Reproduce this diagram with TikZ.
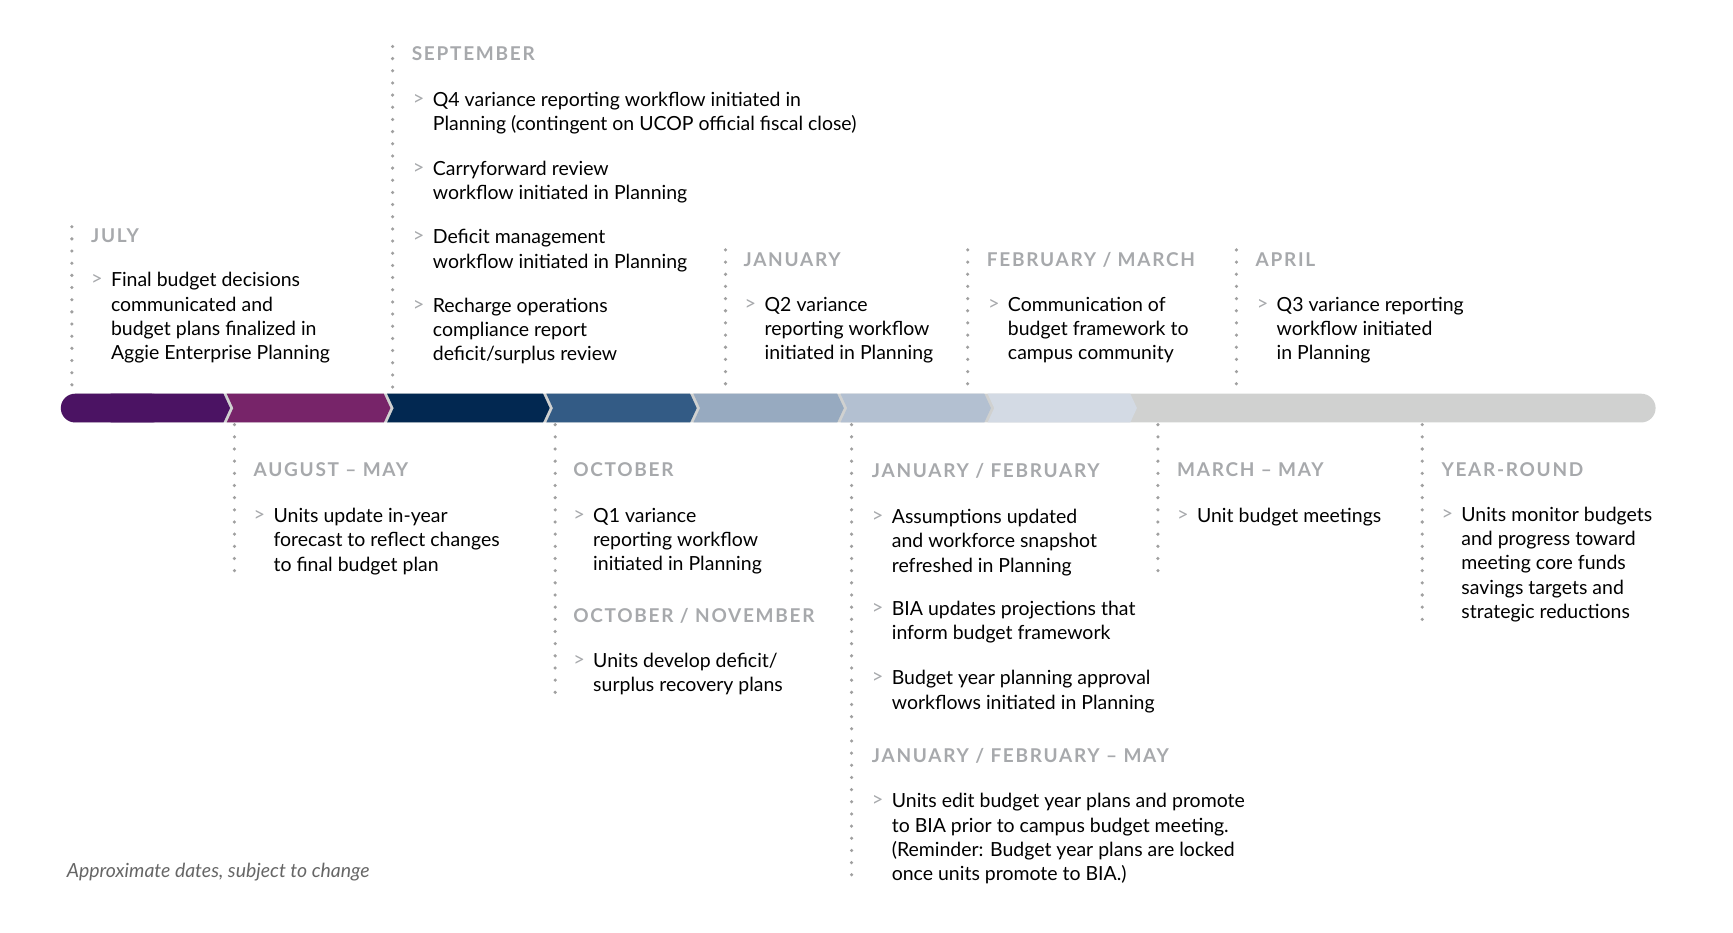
\documentclass[tikz,border=0pt]{standalone}
\usepackage{fontspec}
\setmainfont{Lato}
\newfontfamily\headfont[LetterSpace=9]{Lato}
\definecolor{cA}{HTML}{4B1363}
\definecolor{cB}{HTML}{772469}
\definecolor{cC}{HTML}{022851}
\definecolor{cD}{HTML}{335B85}
\definecolor{cE}{HTML}{97AAC0}
\definecolor{cF}{HTML}{B3C0D1}
\definecolor{cG}{HTML}{D3DAE4}
\definecolor{cBar}{HTML}{D0D1D0}
\definecolor{cHead}{HTML}{A7A9AC}
\definecolor{cDot}{HTML}{A0A0A0}
\newcommand{\tlhead}[4]{\node[head] (#1) at (#2,#3-13) {#4};}
\newcommand{\tlitem}[4]{\node[bul] (#1b) at (#2-18,#3-11) {>};\node[item] (#1) at (#2,#3-13) {#4};}
\newcommand{\seg}[3]{\fill[#1] (#2,356) -- (#3,356) -- (#3+6,369) -- (#3,382) -- (#2,382) -- (#2+6,369) -- cycle;}
\begin{document}
\begin{tikzpicture}[x=0.5pt,y=-0.5pt,
  head/.style={anchor=north west,inner sep=0,text=cHead,font=\headfont\bfseries\fontsize{8.6}{11}\selectfont},
  item/.style={anchor=north west,inner sep=0,align=left,text=black,font=\fontsize{8.8}{11}\selectfont},
  bul/.style={anchor=north west,inner sep=0,text=cHead,font=\fontsize{9}{11}\selectfont},
  dots/.style={cDot,line width=1.6pt,line cap=round,dash pattern=on 0pt off 5.5pt}]
\useasboundingbox (0,0) rectangle (1567,843.6);
% bar
\fill[cBar,rounded corners=6.5pt] (55,356) rectangle (1497,382);
\fill[cA,rounded corners=6.5pt] (55,356) rectangle (150,382);
\fill[cA] (100,356) -- (202,356) -- (208,369) -- (202,382) -- (100,382) -- cycle;
\seg{cB}{205}{347}
\seg{cC}{350}{491}
\seg{cD}{494}{624}
\seg{cE}{627}{757}
\seg{cF}{760}{890}
\seg{cG}{893}{1022}
% connectors
\foreach \n/\x/\a/\b in {jul/65/205/355, sep/355/42/355, jan/656/226/355, feb/875/226/355, apr/1118/226/355,
  aug/212/384/516, oct/502/384/626, jf/770/384/796, mar/1047/384/516, yr/1286/384/560}{
  \coordinate (\n T) at (\x,\a); \coordinate (\n B) at (\x,\b);
  \draw[dots] (\n T) -- (\n B);}
% top
\tlhead{hjul}{82}{219}{JULY}
\tlitem{ijul}{100}{259}{Final budget decisions\\communicated and\\budget plans finalized in\\Aggie Enterprise Planning}
\tlhead{hsep}{372}{55}{SEPTEMBER}
\tlitem{isep1}{391}{96}{Q4 variance reporting workflow initiated in\\Planning (contingent on UCOP official fiscal close)}
\tlitem{isep2}{391}{158}{Carryforward review\\workflow initiated in Planning}
\tlitem{isep3}{391}{220}{Deficit management\\workflow initiated in Planning}
\tlitem{isep4}{391}{282}{Recharge operations\\compliance report\\deficit/surplus review}
\tlhead{hjan}{672}{241}{JANUARY}
\tlitem{ijan}{691}{281}{Q2 variance\\reporting workflow\\initiated in Planning}
\tlhead{hfeb}{892}{241}{FEBRUARY / MARCH}
\tlitem{ifeb}{911}{281}{Communication of\\budget framework to\\campus community}
\tlhead{hapr}{1135}{241}{APRIL}
\tlitem{iapr}{1154}{281}{Q3 variance reporting\\workflow initiated\\in Planning}
% bottom
\tlhead{haug}{229}{431}{AUGUST – MAY}
\tlitem{iaug}{247}{472}{Units update in-year\\forecast to reflect changes\\to final budget plan}
\tlhead{hoct}{518}{431}{OCTOBER}
\tlitem{ioct}{536}{472}{Q1 variance\\reporting workflow\\initiated in Planning}
\tlhead{hon}{518}{563}{OCTOBER / NOVEMBER}
\tlitem{ion}{536}{603}{Units develop deficit/\\surplus recovery plans}
\tlhead{hjf}{788}{432}{JANUARY / FEBRUARY}
\tlitem{ijf1}{806}{473}{Assumptions updated\\and workforce snapshot\\refreshed in Planning}
\tlitem{ijf2}{806}{556}{BIA updates projections that\\inform budget framework}
\tlitem{ijf3}{806}{619}{Budget year planning approval\\workflows initiated in Planning}
\tlhead{hjfm}{788}{689}{JANUARY / FEBRUARY – MAY}
\tlitem{ijfm}{806}{730}{Units edit budget year plans and promote\\to BIA prior to campus budget meeting.\\(Reminder: Budget year plans are locked\\once units promote to BIA.)}
\tlhead{hmar}{1064}{431}{MARCH – MAY}
\tlitem{imar}{1082}{472}{Unit budget meetings}
\tlhead{hyr}{1303}{431}{YEAR-ROUND}
\tlitem{iyr}{1321}{471}{Units monitor budgets\\and progress toward\\meeting core funds\\savings targets and\\strategic reductions}
\node[anchor=north west,inner sep=0,text=black!60,font=\itshape\fontsize{8.8}{11}\selectfont] (note) at (60,780) {Approximate dates, subject to change};
\end{tikzpicture}
\end{document}
